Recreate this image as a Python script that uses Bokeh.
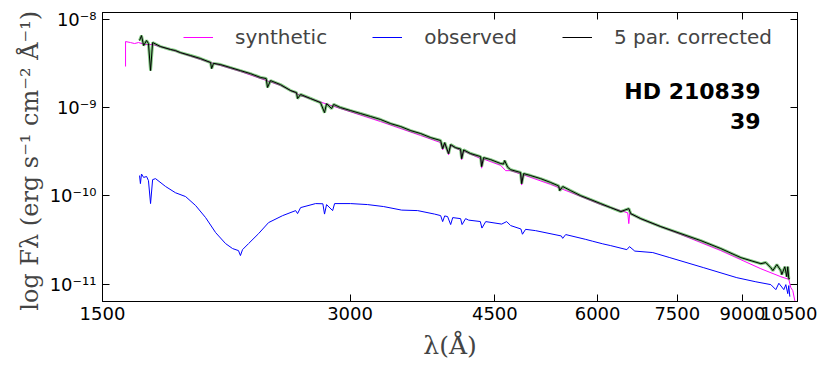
from bokeh.plotting import figure
from bokeh.models import (LogAxis, FixedTicker, CustomJSTickFormatter, Label,
                          Legend, LegendItem, Range1d)
from bokeh.embed import file_html
from bokeh.resources import INLINE

# ---------------- data ----------------
x_ticks = [1500, 3000, 4500, 6000, 7500, 9000, 10500]
x_tick_labels = ["1500", "3000", "4500", "6000", "7500", "9000", "10500"]
y_ticks = [1e-11, 1e-10, 1e-9, 1e-8]
y_tick_labels = ["10\u207b\u00b9\u00b9", "10\u207b\u00b9\u2070", "10\u207b\u2079", "10\u207b\u2078"]

series_names = ["synthetic", "observed", "5 par. corrected"]
star_name = "HD 210839"
star_index = "39"

wl_syn = [1600, 1600, 1622, 1641, 1659, 1692, 1726, 1815, 1974, 2207, 2469, 2612,
          2921, 3268, 3656, 3866, 3888, 3910, 3953, 3976, 4088, 4100, 4123, 4324,
          4336, 4360, 4574, 4638, 4703, 4836, 4850, 4877, 5261, 5723, 6052, 6528,
          6547, 6564, 6771, 7575, 8470, 9475, 10021, 10247, 10306, 10363, 10421, 10450]
fx_syn = [2.90e-9, 5.56e-9, 5.42e-9, 5.28e-9, 5.42e-9, 5.14e-9, 5.14e-9, 4.52e-9,
          3.48e-9, 2.55e-9, 1.77e-9, 1.36e-9, 9.69e-10, 6.9e-10, 4.8e-10, 3.99e-10,
          3.3e-10, 3.9e-10, 2.9e-10, 3.7e-10, 3.24e-10, 2.55e-10, 3.2e-10, 2.63e-10,
          2.05e-10, 2.6e-10, 2.2e-10, 1.92e-10, 1.92e-10, 1.76e-10, 1.32e-10, 1.72e-10,
          1.34e-10, 9.8e-11, 7.93e-11, 6.4e-11, 4.83e-11, 6.3e-11, 5.45e-11, 3.63e-11,
          2.39e-11, 1.49e-11, 1.21e-11, 1.13e-11, 9.10e-12, 8.42e-12, 6.49e-12, 5.0e-12]

wl_obs = [1664, 1668, 1673, 1683, 1697, 1706, 1716, 1726, 1740, 1790, 1840, 1893,
          1947, 2002, 2059, 2117, 2159, 2195, 2207, 2220, 2258, 2322, 2388, 2484,
          2576, 2590, 2612, 2724, 2780, 2793, 2809, 2857, 2873, 3005, 3151, 3296,
          3466, 3625, 3801, 3866, 3888, 3910, 3942, 3976, 3999, 4088, 4105, 4146,
          4181, 4320, 4340, 4386, 4586, 4651, 4703, 4840, 4861, 4904, 5044, 5420,
          5441, 5487, 5804, 5918, 6087, 6224, 6512, 6560, 6658, 7002, 7344, 8076,
          8859, 9344, 9745, 9882, 9966, 10106, 10162, 10218, 10247, 10276]
fx_obs = [1.69e-10, 1.37e-10, 1.76e-10, 1.61e-10, 1.65e-10, 1.48e-10, 8.14e-11,
          1.52e-10, 1.56e-10, 1.27e-10, 1.08e-10, 9.77e-11, 7.73e-11, 5.65e-11,
          3.82e-11, 2.87e-11, 2.52e-11, 2.39e-11, 2.10e-11, 2.45e-11, 2.87e-11,
          3.72e-11, 4.96e-11, 5.95e-11, 6.78e-11, 6.27e-11, 7.33e-11, 8.14e-11,
          8.1e-11, 6.19e-11, 7.93e-11, 6.78e-11, 8.14e-11, 8.14e-11, 7.93e-11,
          7.53e-11, 6.87e-11, 6.78e-11, 6.19e-11, 5.95e-11, 5.09e-11, 5.9e-11,
          5.80e-11, 4.71e-11, 5.65e-11, 5.5e-11, 4.71e-11, 5.50e-11, 5.29e-11,
          5.1e-11, 4.30e-11, 5.09e-11, 4.77e-11, 5.09e-11, 4.59e-11, 4.2e-11,
          3.66e-11, 4.16e-11, 4.02e-11, 3.5e-11, 3.29e-11, 3.63e-11, 3.20e-11,
          3.05e-11, 2.85e-11, 2.72e-11, 2.45e-11, 2.65e-11, 2.36e-11, 2.27e-11,
          1.99e-11, 1.53e-11, 1.18e-11, 1.06e-11, 9.84e-12, 8.64e-12, 1.02e-11,
          8.64e-12, 9.84e-12, 7.78e-12, 9.6e-12, 7.20e-12]

wl_cor = [1664, 1673, 1683, 1697, 1706, 1716, 1726, 1765, 1815, 1840, 1866, 1920,
          1974, 2030, 2036, 2047, 2088, 2147, 2207, 2270, 2335, 2372, 2381, 2401,
          2469, 2540, 2582, 2590, 2612, 2686, 2762, 2793, 2809, 2849, 2865, 2921,
          3005, 3090, 3178, 3268, 3361, 3457, 3555, 3656, 3759, 3866, 3888, 3910,
          3953, 3976, 4031, 4088, 4100, 4123, 4205, 4324, 4336, 4360, 4447, 4574,
          4610, 4625, 4664, 4703, 4836, 4850, 4877, 4974, 5114, 5261, 5380, 5396,
          5441, 5564, 5723, 5886, 6052, 6224, 6402, 6547, 6583, 6771, 7160, 7575,
          8009, 8470, 8959, 9475, 9609, 9745, 9800, 9910, 10021, 10049, 10134,
          10190, 10218, 10247, 10276]
fx_cor = [5.71e-9, 6.50e-9, 5.01e-9, 5.71e-9, 5.28e-9, 2.61e-9, 5.42e-9, 4.88e-9,
          4.52e-9, 4.40e-9, 4.17e-9, 3.86e-9, 3.57e-9, 3.22e-9, 2.75e-9, 3.15e-9,
          3.05e-9, 2.82e-9, 2.61e-9, 2.41e-9, 2.18e-9, 2.12e-9, 1.68e-9, 2.01e-9,
          1.81e-9, 1.55e-9, 1.47e-9, 1.26e-9, 1.40e-9, 1.26e-9, 1.13e-9, 8.73e-10,
          1.10e-9, 9.69e-10, 1.08e-9, 9.95e-10, 9.20e-10, 8.51e-10, 7.87e-10,
          7.28e-10, 6.55e-10, 6.06e-10, 5.46e-10, 5.05e-10, 4.55e-10, 4.21e-10,
          3.41e-10, 3.99e-10, 3.00e-10, 3.79e-10, 3.50e-10, 3.38e-10, 2.63e-10,
          3.30e-10, 3.00e-10, 2.77e-10, 2.14e-10, 2.70e-10, 2.56e-10, 2.31e-10,
          2.28e-10, 2.50e-10, 2.10e-10, 1.97e-10, 1.83e-10, 1.37e-10, 1.78e-10,
          1.69e-10, 1.56e-10, 1.41e-10, 1.29e-10, 1.14e-10, 1.27e-10, 1.14e-10,
          1.00e-10, 9.03e-11, 8.14e-11, 7.33e-11, 6.60e-11, 7.14e-11, 6.27e-11,
          5.50e-11, 4.47e-11, 3.72e-11, 3.10e-11, 2.52e-11, 1.99e-11, 1.70e-11,
          1.75e-11, 1.53e-11, 1.42e-11, 1.66e-11, 1.42e-11, 1.28e-11, 1.57e-11,
          1.21e-11, 1.57e-11, 1.15e-11, 1.15e-11]

x_lim = (1500, 10500)
y_lim = (6.34e-12, 1.186e-8)

# ---------------- figure ----------------
FONT = "DejaVu Sans"
SERIF = "DejaVu Serif"

p = figure(frame_width=695, frame_height=289, x_axis_type="log", y_axis_type="log",
           x_range=Range1d(*x_lim), y_range=Range1d(*y_lim),
           output_backend="svg", toolbar_location=None,
           min_border_left=102, min_border_right=20, min_border_top=12,
           min_border_bottom=30)
p.grid.visible = False
p.outline_line_color = "black"
p.outline_line_width = 1
p.background_fill_color = "white"
p.border_fill_color = "white"


def fmt(tick_vals, tick_texts):
    return CustomJSTickFormatter(args=dict(tv=tick_vals, tl=tick_texts), code="""
        for (let i = 0; i < tv.length; i++) {
            if (Math.abs(Math.log10(tv[i]) - Math.log10(tick)) < 1e-6) return tl[i];
        }
        return "";
    """)


def style_axis(ax):
    ax.major_tick_in = 7
    ax.major_tick_out = 0
    ax.minor_tick_in = 0
    ax.minor_tick_out = 0
    ax.axis_line_color = "black"
    ax.major_tick_line_color = "black"
    ax.major_label_text_font = FONT
    ax.major_label_text_font_size = "18px"
    ax.major_label_text_color = "black"


xa = p.xaxis[0]
xa.ticker = FixedTicker(ticks=x_ticks)
xa.formatter = fmt(x_ticks, x_tick_labels)
style_axis(xa)
xa.major_label_standoff = 5
xa.axis_label = "\u03bb(\u00c5)"
xa.axis_label_text_font = SERIF
xa.axis_label_text_font_style = "normal"
xa.axis_label_text_font_size = "25px"
xa.axis_label_standoff = 8

ya = p.yaxis[0]
ya.ticker = FixedTicker(ticks=y_ticks)
ya.formatter = fmt(y_ticks, y_tick_labels)
style_axis(ya)
ya.major_label_standoff = 6
ya.axis_label = "log F\u03bb  (erg s\u207b\u00b9 cm\u207b\u00b2 \u00c5\u207b\u00b9)"
ya.axis_label_text_font = SERIF
ya.axis_label_text_font_style = "normal"
ya.axis_label_text_font_size = "24px"
ya.axis_label_standoff = 3

# mirrored tick marks on the top and right edges (no labels)
top = LogAxis(ticker=FixedTicker(ticks=x_ticks))
style_axis(top)
top.major_label_text_alpha = 0
top.major_label_text_font_size = "1px"
top.major_label_standoff = 0
top.formatter = fmt([1.0], [""])
p.add_layout(top, "above")
right = LogAxis(ticker=FixedTicker(ticks=y_ticks))
style_axis(right)
right.major_label_text_alpha = 0
right.major_label_text_font_size = "1px"
right.major_label_standoff = 0
right.formatter = fmt([1.0], [""])
p.add_layout(right, "right")

# ---------------- series ----------------
r_syn = p.line(wl_syn, fx_syn, line_color="#ff00ff", line_width=1)
r_obs = p.line(wl_obs, fx_obs, line_color="#0000ff", line_width=1)
p.line(wl_cor, fx_cor, line_color="#1a9a1a", line_width=3, line_alpha=0.55)
r_cor = p.line(wl_cor, fx_cor, line_color="black", line_width=1)

legend = Legend(items=[LegendItem(label=series_names[0], renderers=[r_syn]),
                       LegendItem(label=series_names[1], renderers=[r_obs]),
                       LegendItem(label=series_names[2], renderers=[r_cor])],
                orientation="horizontal", location=(81, 252),
                border_line_alpha=0, background_fill_alpha=0,
                padding=0, margin=0, spacing=45, glyph_width=30,
                glyph_height=20, label_height=20, label_standoff=22,
                label_text_font=FONT, label_text_font_size="20px")
p.add_layout(legend)

for txt, ypos in [(star_name, 210), (star_index, 181)]:
    p.add_layout(Label(x=658, y=ypos, x_units="screen", y_units="screen",
                       text=txt, text_align="right", text_baseline="middle",
                       text_font=FONT, text_font_style="bold",
                       text_font_size="22px", text_color="black"))

open("out.html", "w").write(file_html(p, INLINE))
